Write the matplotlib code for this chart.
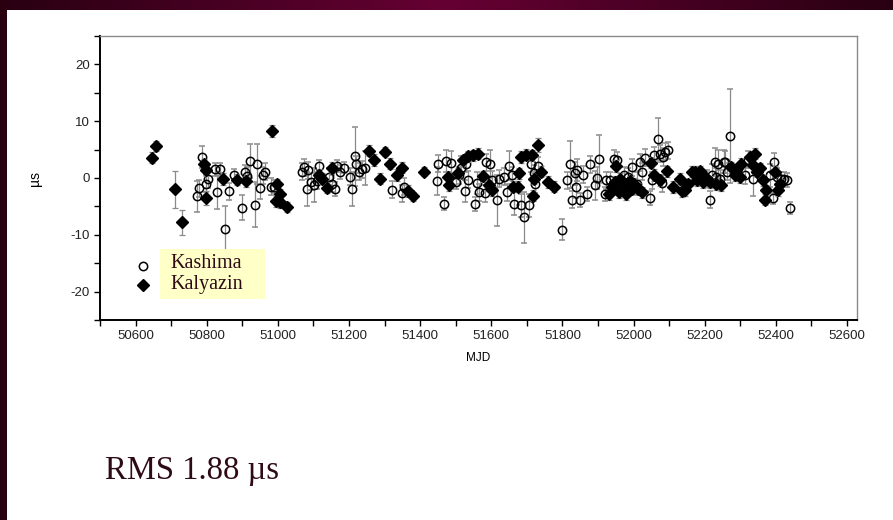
import numpy as np
import matplotlib.pyplot as plt
from matplotlib.patches import Rectangle

# Kashima residuals (open circles)
kashima_mjd = [50772, 50779, 50788, 50797, 50803, 50823, 50828, 50837, 50851, 50863,
               50877, 50900, 50907, 50913, 50921, 50935, 50940, 50950, 50958, 50964,
               50980, 50989, 51067, 51074, 51082, 51086, 51093, 51102, 51111, 51116,
               51144, 51153, 51160, 51167, 51174, 51186, 51203, 51209, 51216, 51221,
               51228, 51237, 51244, 51321, 51349, 51354, 51447, 51451, 51467, 51472,
               51488, 51500, 51510, 51516, 51525, 51530, 51535, 51553, 51560, 51566,
               51581, 51586, 51595, 51603, 51616, 51621, 51637, 51645, 51651, 51658,
               51665, 51684, 51693, 51707, 51712, 51721, 51724, 51730, 51800, 51814,
               51820, 51828, 51835, 51839, 51842, 51848, 51858, 51870, 51877, 51891,
               51898, 51902, 51919, 51923, 51935, 51944, 51953, 51972, 51984, 51995,
               52009, 52019, 52023, 52031, 52046, 52051, 52056, 52068, 52074, 52079,
               52084, 52087, 52096, 52205, 52214, 52219, 52228, 52233, 52237, 52242,
               52254, 52258, 52263, 52270, 52312, 52321, 52335, 52384, 52391, 52395,
               52403, 52414, 52423, 52432, 52440]
kashima_res = [-3.2, -1.8, 3.7, -1.0, -0.2, 1.5, -2.5, 1.5, -8.9, -2.3,
               0.6, -5.2, 1.1, 0.4, 3.0, -4.7, 2.4, -1.7, 0.5, 1.1,
               -1.5, -1.5, 1.1, 1.9, -2.0, 1.4, -0.7, -1.3, -0.5, 2.2,
               0.2, -1.0, -1.9, 2.1, 1.1, 1.8, 0.2, -1.9, 3.8, 2.4,
               1.1, 1.5, 1.7, -2.1, -2.7, -1.5, -0.5, 2.5, -4.5, 3.0,
               2.7, -0.7, 0.5, 1.8, -2.3, 2.5, -0.3, -4.6, -0.9, -2.5,
               -2.7, 2.8, 2.5, -0.3, -3.9, -0.1, 0.2, -2.5, 2.2, 0.5,
               -4.5, -4.8, -6.9, -4.8, 2.5, 0.8, -1.1, 2.2, -9.1, -0.4,
               2.4, -3.8, 0.8, -1.5, 1.4, -3.9, 0.6, -2.8, 2.4, -1.3,
               0.0, 3.4, -2.8, -0.4, -0.4, 3.4, 3.1, 0.5, 0.2, 1.9,
               -1.0, 2.8, 1.1, 3.6, -3.5, -0.4, 4.0, 6.8, 4.3, -0.9,
               3.7, 4.6, 4.9, -0.1, -3.8, 0.5, 2.8, 0.2, 2.5, -0.1,
               2.9, 2.8, 1.1, 7.4, 0.5, 3.2, -0.1, 0.5, -3.6, 2.9,
               0.2, -0.1, -0.1, -0.3, -5.3]
kashima_err = [2.7, 1.5, 1.9, 1.5, 1.5, 1.2, 3.0, 1.2, 3.9, 1.5,
               1.0, 2.2, 1.2, 1.5, 3.0, 4.0, 3.5, 2.0, 1.5, 1.5,
               1.5, 1.2, 1.5, 1.5, 3.0, 1.5, 1.5, 3.0, 1.5, 1.0,
               1.5, 1.5, 1.2, 1.0, 1.2, 1.0, 1.5, 3.0, 5.2, 1.5,
               1.5, 1.5, 3.0, 1.5, 1.5, 1.5, 2.5, 1.5, 1.2, 2.0,
               2.0, 1.2, 1.5, 2.0, 2.0, 1.5, 1.5, 1.2, 2.0, 1.5,
               1.5, 1.5, 2.5, 1.5, 4.5, 1.5, 1.5, 1.5, 2.5, 1.5,
               2.0, 2.0, 4.5, 2.0, 1.5, 1.5, 1.5, 1.5, 1.9, 1.5,
               4.2, 1.5, 2.0, 2.0, 2.0, 1.2, 1.5, 1.2, 1.5, 2.5,
               2.0, 4.2, 1.2, 1.5, 1.5, 1.5, 1.5, 1.5, 1.5, 1.5,
               2.0, 1.5, 1.5, 1.5, 1.2, 1.5, 1.5, 3.7, 1.5, 1.5,
               1.5, 1.5, 1.5, 1.5, 1.5, 2.0, 2.5, 1.5, 2.5, 1.5,
               2.0, 2.0, 1.5, 8.3, 1.5, 1.5, 3.0, 2.0, 1.0, 1.5,
               1.5, 1.2, 1.2, 1.2, 1.0]

# Kalyazin residuals (filled diamonds)
kalyazin_mjd = [50645, 50657, 50712, 50730, 50793, 50797, 50799, 50847, 50886, 50911,
                50983, 50995, 50998, 51005, 51007, 51026, 51116, 51125, 51137, 51151,
                51256, 51270, 51288, 51302, 51316, 51335, 51349, 51365, 51379, 51411,
                51479, 51482, 51507, 51521, 51535, 51549, 51563, 51578, 51593, 51603,
                51660, 51674, 51679, 51684, 51698, 51714, 51716, 51721, 51730, 51740,
                51758, 51777, 51930, 51940, 51949, 51951, 51958, 51962, 51972, 51978,
                51984, 51990, 51995, 52000, 52012, 52025, 52049, 52056, 52074, 52093,
                52112, 52130, 52137, 52144, 52153, 52163, 52172, 52177, 52186, 52195,
                52200, 52214, 52233, 52247, 52274, 52284, 52288, 52298, 52302, 52326,
                52335, 52340, 52347, 52354, 52363, 52370, 52372, 52397, 52405, 52412]
kalyazin_res = [3.6, 5.6, -2.0, -7.8, 2.4, 1.4, -3.5, -0.2, -0.3, -0.6,
                8.3, -4.1, -1.1, -2.9, -4.2, -5.1, 0.6, -0.1, -1.7, 1.8,
                4.8, 3.2, -0.1, 4.6, 2.5, 0.5, 1.8, -2.3, -3.2, 1.1,
                0.2, -1.3, 0.8, 3.1, 3.8, 4.0, 4.3, 0.3, -1.3, -2.1,
                -1.5, -1.5, 0.8, 3.7, 4.1, 4.0, -3.1, -0.1, 5.8, 1.1,
                -0.7, -1.5, -2.8, -1.6, -0.7, 2.1, -2.5, -0.2, -1.3, -2.8,
                -2.2, -0.6, -1.9, -1.0, -1.9, -2.5, 2.7, 0.5, -0.4, 1.2,
                -1.6, -0.1, -2.3, -2.2, -1.1, 1.1, 1.1, -0.4, 1.2, -0.7,
                0.2, -0.7, -1.1, -1.3, 1.9, 0.5, 1.4, 0.2, 2.5, 3.7,
                2.3, 4.3, 1.1, 1.7, -0.4, -3.8, -2.2, 1.1, -2.2, -1.1]
kalyazin_err = [1.0, 0.9, 3.2, 2.2, 1.0, 1.0, 1.2, 1.0, 1.0, 1.0,
                1.0, 1.0, 1.0, 1.0, 1.0, 0.8, 1.0, 1.0, 1.0, 1.0,
                1.0, 1.0, 1.0, 0.8, 1.0, 1.0, 1.0, 1.0, 0.8, 0.8,
                1.0, 1.0, 1.0, 1.0, 1.0, 1.0, 1.0, 1.0, 1.0, 1.0,
                1.0, 1.0, 1.0, 1.0, 1.0, 1.0, 1.0, 1.0, 1.2, 1.0,
                1.0, 1.0, 1.0, 1.0, 1.0, 1.0, 1.0, 1.0, 1.0, 1.0,
                1.0, 1.0, 1.0, 1.0, 1.0, 1.0, 1.0, 1.0, 1.0, 1.0,
                1.0, 1.0, 1.0, 1.0, 1.0, 1.0, 1.0, 1.0, 1.0, 1.0,
                1.0, 1.0, 1.0, 1.0, 1.0, 1.0, 1.0, 1.0, 1.0, 1.0,
                1.0, 1.0, 1.0, 1.0, 1.0, 1.0, 1.0, 1.0, 1.0, 1.0]

x_ticks = [50600, 50800, 51000, 51200, 51400, 51600, 51800, 52000, 52200, 52400, 52600]
y_ticks = [-20, -10, 0, 10, 20]

maroon_text = "#2e0a16"

fig = plt.figure(figsize=(8.93, 5.2), dpi=100)
fig.patch.set_facecolor("white")

# slide decoration: top gradient band and dark left strip
band = fig.add_axes([0, 1 - 10 / 520, 1, 10 / 520])
grad = np.abs(np.linspace(-1, 1, 400))
dark = np.array([0.16, 0.0, 0.07])
mid = np.array([0.40, 0.0, 0.20])
cols = mid[None, :] * (1 - grad[:, None]) + dark[None, :] * grad[:, None]
band.imshow(cols[None, :, :], aspect="auto", extent=[0, 1, 0, 1])
band.axis("off")
strip = fig.add_axes([0, 0, 7 / 893, 1])
strip.set_facecolor("#2a0010")
strip.set_xticks([])
strip.set_yticks([])
for s in strip.spines.values():
    s.set_visible(False)

# main plot
ax = fig.add_axes([100 / 893, 1 - 320 / 520, 757 / 893, 284 / 520])

ax.errorbar(kashima_mjd, kashima_res, yerr=kashima_err, fmt="o", ms=6,
            mfc="none", mec="black", mew=1.1, ecolor="#8a8a8a",
            elinewidth=0.9, capsize=2.5, capthick=0.9, zorder=3)
ax.errorbar(kalyazin_mjd, kalyazin_res, yerr=kalyazin_err, fmt="D", ms=6,
            mfc="black", mec="black", ecolor="#8a8a8a",
            elinewidth=0.9, capsize=2.5, capthick=0.9, zorder=4)

ax.set_xlim(50500, 52628)
ax.set_ylim(-25, 25)
ax.set_xticks(x_ticks)
ax.set_xticks(np.arange(50500, 52700, 100), minor=True)
ax.set_yticks(y_ticks)
ax.set_yticks(np.arange(-25, 26, 5), minor=True)
ax.tick_params(which="both", direction="out", length=4, width=1, colors="black",
               labelsize=9.5, labelcolor="#222222")
ax.set_xticklabels([str(v) for v in x_ticks], family="Liberation Sans")
ax.set_yticklabels([str(v) for v in y_ticks], family="Liberation Sans")

ax.spines["left"].set_linewidth(1.4)
ax.spines["bottom"].set_linewidth(1.4)
ax.spines["top"].set_color("#8a8a8a")
ax.spines["right"].set_color("#8a8a8a")
ax.spines["top"].set_linewidth(1.0)
ax.spines["right"].set_linewidth(1.0)

ax.set_xlabel("MJD", family="Liberation Sans", fontsize=8.5, labelpad=7)
ax.set_ylabel("µs", family="Liberation Sans", fontsize=10, labelpad=20)

# legend drawn by hand: yellow box with markers to its left
fig.patches.append(Rectangle((160 / 893, 1 - 299 / 520), 105 / 893, 50 / 520,
                             transform=fig.transFigure, facecolor="#ffffc8",
                             edgecolor="none", zorder=5))
fig.add_artist(plt.Line2D([143 / 893], [1 - 266 / 520], marker="o", ms=6,
                          mfc="white", mec="black", mew=1.1,
                          transform=fig.transFigure, zorder=6))
fig.add_artist(plt.Line2D([143 / 893], [1 - 285 / 520], marker="D", ms=6.5,
                          mfc="black", mec="black",
                          transform=fig.transFigure, zorder=6))
fig.text(170 / 893, 1 - 264 / 520, "Kashima", family="Liberation Serif",
         fontsize=14.5, color=maroon_text, va="center", ha="left", zorder=7)
fig.text(170 / 893, 1 - 284 / 520, "Kalyazin", family="Liberation Serif",
         fontsize=14.5, color=maroon_text, va="center", ha="left", zorder=7)

# RMS annotation
fig.text(105 / 893, 1 - 479 / 520, "RMS 1.88 µs", family="Liberation Serif",
         fontsize=23.5, color=maroon_text, va="baseline", ha="left")

plt.savefig("out.png", dpi=100)
